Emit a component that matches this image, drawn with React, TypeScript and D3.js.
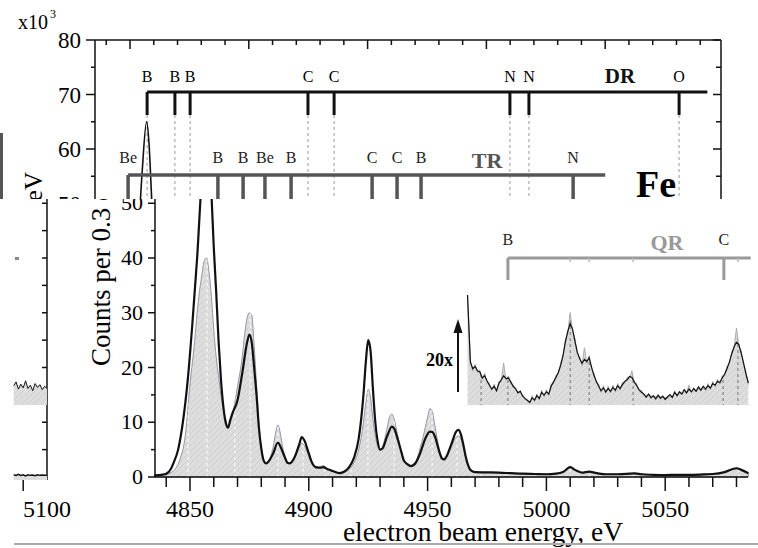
import React from 'react';
import * as d3 from 'd3';

const W = 758, H = 548;
const FONT = '"Liberation Serif", "Times New Roman", serif';

// transition energies (eV) and labels
const drEnergies = [4857.2, 4868.9, 4875.3, 4924.9, 4935.9, 5009.9, 5017.9, 5081.1];
const drLabels = ['B', 'B', 'B', 'C', 'C', 'N', 'N', 'O'];
const drEnd = 5093;
const trEnergies = [4849.2, 4887.0, 4897.6, 4906.8, 4917.8, 4951.9, 4962.4, 4972.5, 5036.5];
const trLabels = ['Be', 'B', 'B', 'Be', 'B', 'C', 'C', 'B', 'N'];
const trEnd = 5050;
const qrEnergies = [4983.8, 5074.7];
const qrLabels = ['B', 'C'];
const qrEnd = 5086;
const qrMinor = [5010, 5018, 5036.5, 5080.6];
const insetMarks = [4972.5, 4983.8, 5010, 5018, 5036.5, 5074.4, 5080.6];

// tick labels
const xTickValues = [4850, 4900, 4950, 5000, 5050];
const yBotTicks = [0, 10, 20, 30, 40, 50];
const yTopTicks = [50, 60, 70, 80];

// main spectra: black (thick line) and grey (hatched fill)
const blackE = [4835, 4838, 4840, 4842, 4843, 4845, 4847, 4849, 4851, 4853, 4855, 4857, 4858, 4859, 4860, 4861, 4862, 4863, 4864, 4865, 4866, 4867, 4868, 4870, 4872, 4874, 4875, 4876, 4877, 4878, 4879, 4880, 4881, 4882, 4883, 4885, 4887, 4888, 4890, 4891, 4892, 4894, 4896, 4897, 4898, 4900, 4901, 4903, 4905, 4906, 4908, 4910, 4913, 4915, 4917, 4919, 4921, 4923, 4924, 4925, 4926, 4927, 4928, 4929, 4930, 4931, 4933, 4935, 4936, 4937, 4939, 4940, 4942, 4943, 4945, 4947, 4949, 4951, 4952, 4953, 4955, 4956, 4957, 4958, 4960, 4962, 4963, 4964, 4965, 4966, 4967, 4968, 4970, 4975, 4980, 4985, 4990, 4995, 5000, 5004, 5007, 5010, 5012, 5015, 5018, 5020, 5025, 5030, 5035, 5037, 5040, 5045, 5050, 5055, 5060, 5065, 5070, 5075, 5080, 5082, 5085];
const blackY = [0.3, 0.4, 0.6, 1.5, 2.5, 5, 10, 17.5, 28, 40, 55, 65, 61, 52, 42, 34, 25, 18, 13, 10, 9, 10.5, 11.8, 14, 19, 24.5, 26, 24.5, 20, 15, 9, 5.2, 3, 2.5, 2.8, 4.3, 6.3, 5.6, 3.5, 2.6, 2.5, 3.6, 6, 7.3, 6.8, 4.3, 3, 1.8, 1.7, 1.8, 1.4, 1.1, 0.7, 1, 1.8, 3.5, 7, 15, 21, 25, 23, 16, 10, 6.5, 5, 5.2, 7.5, 9.2, 8.8, 7.5, 4.5, 3, 2.2, 2, 2.6, 4.5, 7, 8.3, 8.2, 7.5, 4.5, 3.4, 3.2, 3.8, 6, 8.3, 8.6, 7.8, 6, 3.8, 2.2, 1.3, 0.9, 0.85, 0.8, 0.7, 0.6, 0.55, 0.5, 0.6, 0.9, 1.8, 1.3, 0.8, 1.0, 0.8, 0.5, 0.5, 0.6, 0.65, 0.5, 0.4, 0.35, 0.4, 0.4, 0.45, 0.55, 0.9, 1.6, 1.3, 0.7];

const grayE = [4835, 4838, 4840, 4842, 4844, 4846, 4848, 4850, 4852, 4853, 4855, 4856, 4857, 4858, 4859, 4860, 4861, 4862, 4863, 4864, 4865, 4866, 4867, 4868, 4869, 4870, 4872, 4873, 4874, 4875, 4876, 4877, 4878, 4879, 4880, 4881, 4882, 4883, 4885, 4886, 4887, 4888, 4889, 4890, 4891, 4892, 4894, 4896, 4897, 4898, 4900, 4901, 4903, 4905, 4906, 4908, 4910, 4913, 4915, 4917, 4919, 4921, 4923, 4924, 4925, 4926, 4927, 4928, 4929, 4930, 4931, 4933, 4934, 4935, 4936, 4937, 4939, 4940, 4942, 4943, 4945, 4947, 4949, 4950, 4951, 4952, 4953, 4955, 4956, 4957, 4958, 4960, 4962, 4963, 4964, 4965, 4966, 4967, 4968, 4970, 4975, 4980, 4985, 4990, 4995, 5000, 5004, 5007, 5010, 5012, 5015, 5018, 5020, 5025, 5030, 5035, 5037, 5040, 5045, 5050, 5055, 5060, 5065, 5070, 5075, 5080, 5082, 5085];
const grayY = [0.2, 0.3, 0.4, 0.8, 1.6, 3.5, 7.5, 17, 25, 30, 37, 39.5, 40, 37.5, 33, 27, 22, 18.5, 15, 12.5, 10.5, 9.2, 10, 11.5, 14, 16.5, 22, 26, 29, 30, 29.5, 24, 17, 10, 5.5, 3.2, 2.6, 3, 5.5, 8, 9.5, 8, 5.5, 3.8, 2.8, 2.5, 3.4, 5.4, 6.2, 5.8, 3.8, 2.6, 1.6, 1.9, 2.1, 1.5, 1.0, 0.6, 0.8, 1.4, 2.6, 5, 10, 13.5, 16, 14.5, 10.5, 7.5, 5.5, 4.8, 5.5, 9, 11, 11.5, 10.5, 8.5, 4.5, 3, 2.1, 2, 2.8, 5.5, 9, 11, 12.5, 12, 9.5, 5, 3.5, 3.1, 3.6, 5.5, 7.3, 7.5, 7, 5.5, 3.6, 2.1, 1.2, 0.8, 0.8, 0.75, 0.7, 0.55, 0.5, 0.5, 0.6, 1.0, 1.9, 1.3, 0.8, 1.0, 0.8, 0.5, 0.5, 0.6, 0.7, 0.5, 0.4, 0.35, 0.4, 0.45, 0.5, 0.6, 0.9, 1.6, 1.3, 0.7];

// 20x inset spectra
const insetE = [4966.8, 4968, 4969, 4970, 4971, 4972, 4973, 4974, 4975, 4976, 4977, 4978, 4979, 4980, 4981, 4982, 4983, 4984, 4985, 4986, 4987, 4988, 4989, 4990, 4991, 4992, 4993, 4994, 4995, 4996, 4997, 4998, 4999, 5000, 5001, 5002, 5003, 5004, 5005, 5006, 5007, 5008, 5009, 5010, 5011, 5012, 5013, 5014, 5015, 5016, 5017, 5018, 5019, 5020, 5021, 5022, 5023, 5024, 5025, 5026, 5027, 5028, 5029, 5030, 5031, 5032, 5033, 5034, 5035, 5036, 5037, 5038, 5039, 5040, 5041, 5042, 5043, 5044, 5045, 5046, 5047, 5048, 5049, 5050, 5051, 5052, 5053, 5054, 5055, 5056, 5057, 5058, 5059, 5060, 5061, 5062, 5063, 5064, 5065, 5066, 5067, 5068, 5069, 5070, 5071, 5072, 5073, 5074, 5075, 5076, 5077, 5078, 5079, 5080, 5081, 5082, 5083, 5084, 5085];
const insetBlack = [20, 7.8, 6.6, 7.0, 6.2, 6.0, 4.9, 5.3, 4.4, 3.6, 2.9, 3.4, 2.6, 3.9, 4.6, 5.3, 4.8, 4.9, 4.2, 3.4, 3.0, 2.2, 2.5, 1.6, 1.2, 0.8, 0.5, 1.3, 0.9, 1.7, 1.2, 2.3, 1.8, 2.4, 2.0, 3.4, 4.2, 5.0, 5.9, 7.2, 9.0, 11.5, 13.4, 14.8, 13.8, 11.6, 9.6, 8.4, 7.6, 8.3, 7.9, 8.6, 6.9, 5.4, 4.3, 3.4, 2.6, 3.1, 2.4, 3.0, 2.5, 3.2, 2.7, 3.5, 3.0, 3.7, 4.3, 4.6, 5.2, 5.0, 4.2, 3.5, 2.8, 2.3, 2.0, 1.4, 2.0, 1.3, 1.7, 1.1, 1.8, 1.2, 1.6, 1.0, 1.5, 1.9, 1.4, 2.3, 1.7, 2.4, 2.0, 2.8, 2.2, 2.9, 2.4, 3.0, 2.5, 3.3, 2.7, 3.4, 2.9, 3.5, 3.1, 3.9, 3.6, 4.3, 4.1, 4.9, 5.6, 6.6, 7.8, 9.3, 10.6, 11.4, 11.0, 9.4, 7.6, 5.6, 4.0];
const insetGray = [20, 8.2, 6.2, 7.4, 5.9, 6.3, 4.6, 5.8, 4.1, 3.9, 2.6, 3.8, 2.4, 4.3, 4.2, 7.6, 4.5, 5.3, 3.9, 3.7, 2.7, 2.5, 2.2, 1.9, 0.9, 1.1, 0.3, 1.7, 0.6, 2.0, 0.9, 2.7, 1.5, 2.8, 1.7, 3.8, 3.9, 5.4, 5.6, 7.6, 8.7, 12.0, 13.0, 16.8, 13.4, 12.1, 9.2, 8.8, 7.2, 10.4, 7.5, 9.0, 6.5, 5.8, 4.0, 3.8, 2.3, 3.5, 2.1, 3.4, 2.2, 3.6, 2.4, 3.9, 2.7, 4.1, 4.0, 5.0, 4.9, 6.2, 3.9, 3.9, 2.5, 2.7, 1.7, 1.8, 1.7, 1.7, 1.4, 1.5, 1.5, 1.6, 1.3, 1.4, 1.2, 1.6, 1.3, 2.6, 1.6, 2.1, 2.0, 2.4, 2.2, 3.6, 2.3, 2.8, 2.4, 3.0, 2.6, 3.1, 2.6, 3.9, 2.8, 4.3, 3.3, 4.7, 3.8, 5.3, 5.3, 7.0, 7.5, 9.7, 10.3, 14.0, 10.7, 9.8, 7.3, 6.0, 3.7];

// left strip (fragment of a neighbouring panel)
const leftE = [5086, 5087, 5088, 5089, 5090, 5091, 5092, 5093, 5094, 5095, 5096, 5097, 5098, 5099, 5100];
const leftInset = [3.5, 4.2, 2.9, 3.8, 3.1, 4.4, 3.0, 3.6, 2.6, 3.9, 3.2, 3.7, 2.8, 3.4, 3.0];
const leftBase = [0.4, 0.3, 0.5, 0.3, 0.4, 0.2, 0.4, 0.3, 0.35, 0.25, 0.4, 0.3, 0.35, 0.3, 0.3];

export default function App() {
  const xBot = d3.scaleLinear().domain([4850, 5050]).range([190, 665.2]);
  const xTop = d3.scaleLinear().domain([4850, 5050]).range([130, 605.2]);
  const yBot = d3.scaleLinear().domain([0, 50]).range([477, 203.25]);
  const yTop = d3.scaleLinear().domain([50, 80]).range([203.5, 40]);
  const yIn = d3.scaleLinear().domain([0, 20]).range([405, 295]);
  const xLeft = d3.scaleLinear().domain([5090, 5100]).range([23.2, 47]);

  const black = blackE.map((e, i) => [e, blackY[i]] as [number, number]);
  const gray = grayE.map((e, i) => [e, grayY[i]] as [number, number]);
  const inB = insetE.map((e, i) => [e, insetBlack[i]] as [number, number]);
  const inG = insetE.map((e, i) => [e, insetGray[i]] as [number, number]);

  const lineBot = d3.line<[number, number]>().x(d => xBot(d[0])).y(d => yBot(d[1])).curve(d3.curveMonotoneX);
  const lineTop = d3.line<[number, number]>().x(d => xTop(d[0])).y(d => yTop(d[1])).curve(d3.curveMonotoneX);
  const areaBot = d3.area<[number, number]>().x(d => xBot(d[0])).y0(yBot(0)).y1(d => yBot(d[1])).curve(d3.curveMonotoneX);
  const lineIn = d3.line<[number, number]>().x(d => xBot(d[0])).y(d => yIn(d[1]));
  const areaIn = d3.area<[number, number]>().x(d => xBot(d[0])).y0(yIn(0)).y1(d => yIn(d[1]));

  const leftIn = leftE.map((e, i) => [e, leftInset[i]] as [number, number]);
  const leftB = leftE.map((e, i) => [e, leftBase[i]] as [number, number]);
  const lineLeftIn = d3.line<[number, number]>().x(d => xLeft(d[0])).y(d => yIn(d[1]));
  const areaLeftIn = d3.area<[number, number]>().x(d => xLeft(d[0])).y0(yIn(0)).y1(d => yIn(d[1]));
  const lineLeftB = d3.line<[number, number]>().x(d => xLeft(d[0])).y(d => yBot(d[1]));
  const areaLeftB = d3.area<[number, number]>().x(d => xLeft(d[0])).y0(480).y1(d => yBot(d[1]));

  const minorX = d3.range(4830, 5091, 10);
  const minorXBot = d3.range(4840, 5081, 10);
  const markEnergies = [...drEnergies, ...trEnergies].filter(e => e > 4836 && e < 5085);

  const grayFillPath = areaBot(gray) || '';
  const insetFillPath = areaIn(inG) || '';

  return (
    <div style={{ position: 'fixed', left: 0, top: 0, width: W, height: H, background: '#fff' }}>
      <svg width={W} height={H} style={{ display: 'block' }} fontFamily={FONT}>
        <defs>
          <clipPath id="clipTop"><rect x={0} y={0} width={W} height={199} /></clipPath>
          <clipPath id="clipBot"><rect x={0} y={199} width={W} height={H - 199} /></clipPath>
          <clipPath id="clipLeftTop"><rect x={0} y={0} width={48} height={199} /></clipPath>
          <clipPath id="clipLeftBot"><rect x={0} y={199} width={48} height={300} /></clipPath>
          <clipPath id="clipFill"><path d={grayFillPath} /></clipPath>
          <clipPath id="clipInset"><path d={insetFillPath} /></clipPath>
          <pattern id="hatch" width={6} height={6} patternUnits="userSpaceOnUse">
            <rect width={6} height={6} fill="#dddddd" />
            <path d="M-1,1 l2,-2 M0,6 l6,-6 M5,7 l2,-2" stroke="#c8c8c8" strokeWidth={0.7} />
          </pattern>
        </defs>

        {/* ---------- TOP PANEL ---------- */}
        <g clipPath="url(#clipTop)">
          <text x={18} y={29} fontSize={20}>x10</text>
          <text x={50} y={18} fontSize={12}>3</text>
          <line x1={95} y1={40} x2={95} y2={210} stroke="#111" strokeWidth={1.5} />
          <line x1={95} y1={40} x2={721} y2={40} stroke="#111" strokeWidth={1.5} />
          <line x1={721} y1={40} x2={721} y2={210} stroke="#111" strokeWidth={1.5} />
          {d3.range(50, 81, 5).map(v => {
            const major = v % 10 === 0;
            return (
              <g key={'yt' + v}>
                <line x1={major ? 86 : 91} x2={95} y1={yTop(v)} y2={yTop(v)} stroke="#111" strokeWidth={1.5} />
                <line x1={721} x2={major ? 713 : 716} y1={yTop(v)} y2={yTop(v)} stroke="#111" strokeWidth={1.5} />
              </g>
            );
          })}
          {yTopTicks.map(v => (
            <text key={'ytl' + v} x={81} y={yTop(v) + 8} fontSize={23} textAnchor="end">{v}</text>
          ))}
          {minorX.map(e => {
            const x = xTop(e);
            if (x < 96 || x > 720) return null;
            const major = e % 50 === 0;
            return <line key={'xt' + e} x1={x} x2={x} y1={40} y2={major ? 49 : 45} stroke="#111" strokeWidth={1.5} />;
          })}

          {drEnergies.map((e, i) => (
            <line key={'drd' + i} x1={xTop(e)} x2={xTop(e)} y1={115} y2={199} stroke="#999" strokeWidth={1} strokeDasharray="3,3" />
          ))}

          <path d={lineTop(black) || ''} fill="none" stroke="#111" strokeWidth={1.6} />

          <line x1={xTop(drEnergies[0])} x2={xTop(drEnd)} y1={92} y2={92} stroke="#111" strokeWidth={3} />
          {drEnergies.map((e, i) => (
            <g key={'dr' + i}>
              <line x1={xTop(e)} x2={xTop(e)} y1={92} y2={115} stroke="#111" strokeWidth={3} />
              <text x={xTop(e)} y={82} fontSize={16} textAnchor="middle">{drLabels[i]}</text>
            </g>
          ))}
          <text x={620} y={83} fontSize={21} fontWeight="bold" textAnchor="middle" fill="#111">DR</text>

          <line x1={xTop(trEnergies[0])} x2={xTop(trEnd)} y1={175} y2={175} stroke="#555" strokeWidth={3.5} />
          {trEnergies.map((e, i) => (
            <g key={'tr' + i}>
              <line x1={xTop(e)} x2={xTop(e)} y1={175} y2={199} stroke="#555" strokeWidth={3.5} />
              <text x={xTop(e)} y={163} fontSize={16} textAnchor="middle" fill="#222">{trLabels[i]}</text>
            </g>
          ))}
          <text x={487} y={168} fontSize={22} fontWeight="bold" textAnchor="middle" fill="#555">TR</text>

          <text x={656} y={197} fontSize={38} fontWeight="bold" textAnchor="middle" fill="#000">Fe</text>
        </g>

        <g clipPath="url(#clipLeftTop)">
          <rect x={0} y={133} width={3} height={67} fill="#555" />
          <text transform="translate(42,172) rotate(-90)" fontSize={25} textAnchor="end">Counts per 0.3 eV</text>
        </g>

        {/* ---------- BOTTOM PANEL ---------- */}
        <g clipPath="url(#clipBot)">
          <path d={grayFillPath} fill="url(#hatch)" stroke="#8a8aa0" strokeWidth={0.9} />
          <g clipPath="url(#clipFill)">
            {markEnergies.map((e, i) => (
              <line key={'wd' + i} x1={xBot(e)} x2={xBot(e)} y1={199} y2={477} stroke="#fff" strokeWidth={1} strokeDasharray="3,3" />
            ))}
          </g>
          <path d={lineBot(black) || ''} fill="none" stroke="#111" strokeWidth={2.2} />

          <line x1={155} y1={199} x2={155} y2={477} stroke="#111" strokeWidth={1.5} />
          {d3.range(0, 51, 5).map(v => (
            <line key={'yb' + v} x1={v % 10 === 0 ? 148 : 151} x2={155} y1={yBot(v)} y2={yBot(v)} stroke="#111" strokeWidth={1.5} />
          ))}
          {yBotTicks.map(v => (
            <text key={'ybl' + v} x={143} y={yBot(v) + 7} fontSize={22} textAnchor="end">{v}</text>
          ))}
          <text transform="translate(110,366) rotate(-90)" fontSize={27}>Counts per 0.3 eV</text>

          <line x1={155} y1={477} x2={748} y2={477} stroke="#111" strokeWidth={1.5} />
          {minorXBot.map(e => (
            <line key={'xb' + e} x1={xBot(e)} x2={xBot(e)} y1={477} y2={e % 50 === 0 ? 491 : 487} stroke="#111" strokeWidth={1.5} />
          ))}
          {xTickValues.map(v => (
            <text key={'xbl' + v} x={xBot(v)} y={517} fontSize={24} textAnchor="middle">{v}</text>
          ))}
          <text x={483} y={541} fontSize={27.5} textAnchor="middle">electron beam energy, eV</text>

          <path d={insetFillPath} fill="url(#hatch)" stroke="none" />
          <g clipPath="url(#clipInset)">
            {insetMarks.map((e, i) => (
              <line key={'id' + i} x1={xBot(e)} x2={xBot(e)} y1={290} y2={405} stroke="#666" strokeWidth={0.9} strokeDasharray="3,3" />
            ))}
          </g>
          <path d={lineIn(inG) || ''} fill="none" stroke="#aaa" strokeWidth={1} />
          <path d={lineIn(inB) || ''} fill="none" stroke="#111" strokeWidth={1.2} />
          <text x={453} y={366} fontSize={18} fontWeight="bold" textAnchor="end">20x</text>
          <line x1={458} x2={458} y1={392} y2={330} stroke="#111" strokeWidth={2} />
          <path d="M458,319 L453.5,333 L462.5,333 Z" fill="#111" />

          <line x1={xBot(qrEnergies[0])} x2={xBot(qrEnd)} y1={258} y2={258} stroke="#999" strokeWidth={3} />
          {qrEnergies.map((e, i) => (
            <g key={'qr' + i}>
              <line x1={xBot(e)} x2={xBot(e)} y1={258} y2={280} stroke="#999" strokeWidth={3} />
              <text x={xBot(e)} y={245} fontSize={16} textAnchor="middle" fill="#222">{qrLabels[i]}</text>
            </g>
          ))}
          {qrMinor.map((e, i) => (
            <line key={'qm' + i} x1={xBot(e)} x2={xBot(e)} y1={258} y2={262} stroke="#bbb" strokeWidth={1.5} />
          ))}
          <text x={667} y={250} fontSize={22} fontWeight="bold" textAnchor="middle" fill="#999">QR</text>

          <g clipPath="url(#clipLeftBot)">
            <line x1={47} x2={47} y1={199} y2={480} stroke="#111" strokeWidth={1.5} />
            {d3.range(0, 51, 5).map(v => (
              <line key={'yl' + v} x1={42} x2={47} y1={yBot(v)} y2={yBot(v)} stroke="#111" strokeWidth={1.5} />
            ))}
            <rect x={15} y={257} width={4} height={3} fill="#888" />
            <path d={areaLeftIn(leftIn) || ''} fill="url(#hatch)" />
            <path d={lineLeftIn(leftIn) || ''} fill="none" stroke="#111" strokeWidth={1} />
            <path d={areaLeftB(leftB) || ''} fill="#dddddd" />
            <path d={lineLeftB(leftB) || ''} fill="none" stroke="#111" strokeWidth={1.5} />
            <line x1={xLeft(5090)} x2={xLeft(5090)} y1={480} y2={491} stroke="#111" strokeWidth={1.5} />
          </g>
          <text x={xLeft(5100)} y={517} fontSize={24} textAnchor="middle">5100</text>

          <line x1={14} x2={W} y1={544} y2={544} stroke="#aaa" strokeWidth={2} />
        </g>
      </svg>
    </div>
  );
}
